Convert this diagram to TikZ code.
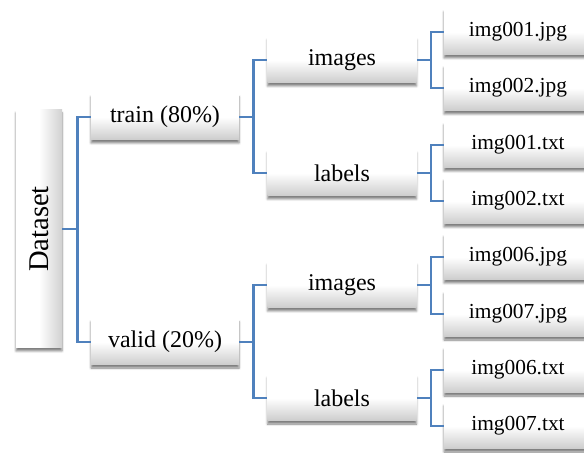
\documentclass[tikz,border=0pt]{standalone}
\usepackage{fontspec}
\setmainfont{Liberation Serif}
\newfontfamily\boxfont{Liberation Serif}
\usetikzlibrary{shadows.blur}
\definecolor{linkblue}{RGB}{79,129,189}
\tikzstyle{folder}=[rectangle,top color=white,bottom color=black!20,middle color=white,blur shadow={shadow xshift=0pt,shadow yshift=-1.5pt,shadow blur radius=1.1pt,shadow opacity=50},minimum height=23pt,inner sep=1pt,font=\boxfont\fontsize{12}{14}\selectfont]
\tikzstyle{root}=[folder,left color=white,right color=black!18,middle color=white,minimum width=23pt,minimum height=119pt,font=\boxfont\fontsize{14.3}{16}\selectfont]
\tikzstyle{split}=[folder,minimum width=74pt]
\tikzstyle{sub}=[folder,minimum width=74.5pt]
\tikzstyle{leaf}=[folder,minimum width=74pt,font=\boxfont\fontsize{10.7}{13}\selectfont]
\tikzstyle{link}=[draw=linkblue,line width=1.2pt]
\begin{document}
\begin{tikzpicture}[x=0.5pt,y=-0.5pt]
\useasboundingbox (0,0) rectangle (584,453);

\node [root] (d) at (39,229) {\rotatebox{90}{Dataset}};

\node [split] (tr) at (165,117) {train (80\%)};
\node [split] (va) at (165,342) {valid (20\%)};

\node [sub] (tri) at (342,60) {images};
\node [sub] (trl) at (342,173) {labels};
\node [sub] (vai) at (342,285) {images};
\node [sub] (val) at (342,398) {labels};

\node [leaf] (a1) at (518,32) {img001.jpg};
\node [leaf] (a2) at (518,88) {img002.jpg};
\node [leaf] (b1) at (518,145) {img001.txt};
\node [leaf] (b2) at (518,201) {img002.txt};
\node [leaf] (c1) at (518,257) {img006.jpg};
\node [leaf] (c2) at (518,314) {img007.jpg};
\node [leaf] (e1) at (518,370) {img006.txt};
\node [leaf] (e2) at (518,426) {img007.txt};

% root to splits
\draw[link] (d.east) -- ++(15,0) coordinate (dm) |- (tr.west);
\draw[link] (dm) |- (va.west);

% splits to folders
\foreach \p/\u/\l in {tr/tri/trl,va/vai/val}{
  \draw[link] (\p.east) -- ++(14,0) coordinate (m) |- (\u.west);
  \draw[link] (m) |- (\l.west);
}

% folders to files
\foreach \p/\u/\l in {tri/a1/a2,trl/b1/b2,vai/c1/c2,val/e1/e2}{
  \draw[link] (\p.east) -- ++(14,0) coordinate (m) |- (\u.west);
  \draw[link] (m) |- (\l.west);
}
\end{tikzpicture}
\end{document}
